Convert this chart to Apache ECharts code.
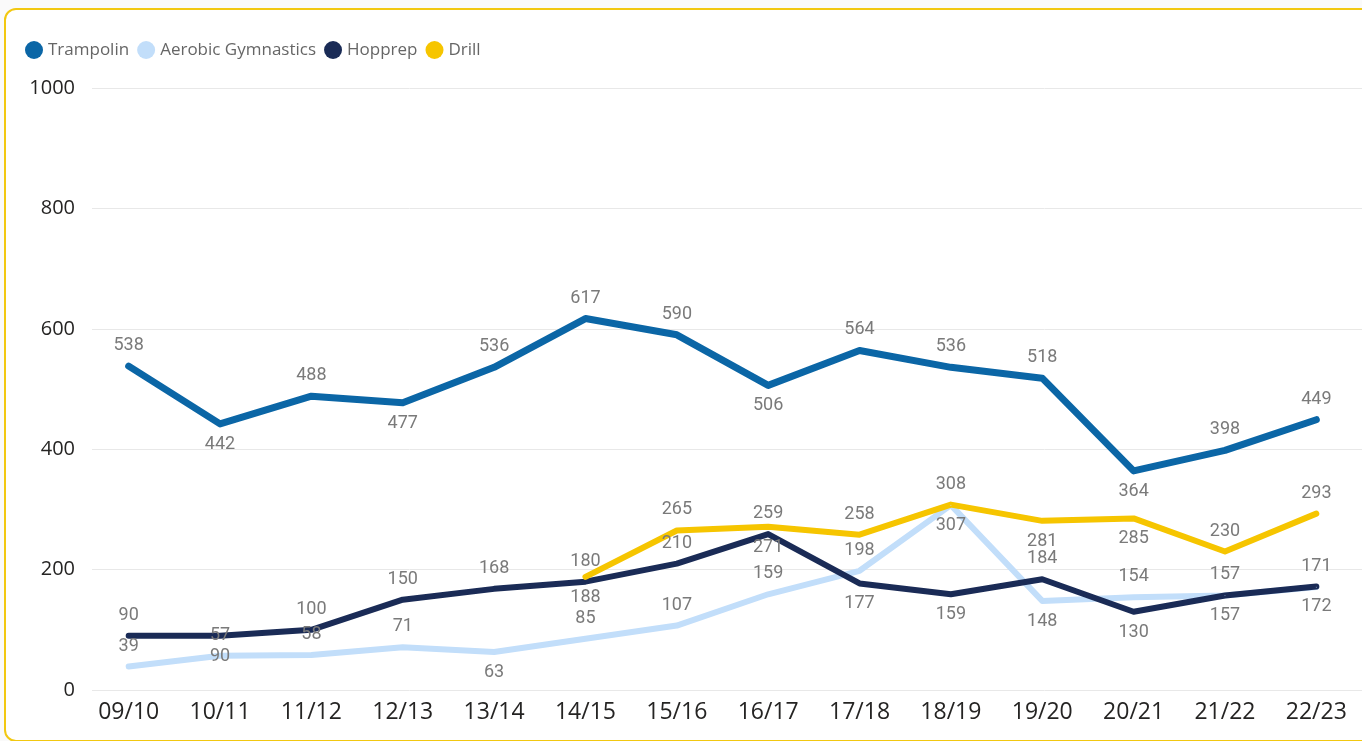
<!DOCTYPE html>
<html>
<head>
<meta charset="utf-8">
<script src="https://cdn.jsdelivr.net/npm/echarts@6/dist/echarts.min.js"></script>
<style>
  html, body { margin: 0; padding: 0; background: #fafafa; overflow: hidden; }
  .frame {
    position: absolute; left: 4px; top: 8px; width: 1400px; height: 730px;
    border: 2px solid #F2C811; border-radius: 12px; background: #fff;
  }
  #chart { position: absolute; left: 0; top: 0; width: 1362px; height: 741px; }
</style>
</head>
<body>
<div class="frame"></div>
<div id="chart"></div>
<script>
const seasons = ['09/10', '10/11', '11/12', '12/13', '13/14', '14/15', '15/16', '16/17', '17/18', '18/19', '19/20', '20/21', '21/22', '22/23'];
const trampolin = [538, 442, 488, 477, 536, 617, 590, 506, 564, 536, 518, 364, 398, 449];
const aerobic   = [39, 57, 58, 71, 63, 85, 107, 159, 198, 307, 148, 154, 157, 171];
const hopprep   = [90, 90, 100, 150, 168, 180, 210, 259, 177, 159, 184, 130, 157, 172];
const drill     = [null, null, null, null, null, 188, 265, 271, 258, 308, 281, 285, 230, 293];
const yTicks = [0, 200, 400, 600, 800, 1000];

// where each data label sits: t = above, b = below
const trampolinSide = 'tbtbtttbtttbtt';
const aerobicSide   = 'ttttbttttbbttt';
const hopprepSide   = 'tbttttttbbtbbb';
const drillSide     = 'tttttbtbttbbtt';

function points(values, side) {
  return values.map((v, i) => v === null ? '-' : {
    value: v,
    label: { position: side[i] === 't' ? 'top' : 'bottom' }
  });
}

function line(name, values, side, color, width) {
  return {
    name: name,
    type: 'line',
    xAxisIndex: 0,
    yAxisIndex: 0,
    data: points(values, side),
    showSymbol: true,
    symbol: 'circle',
    symbolSize: 1,
    lineStyle: { color: color, width: width, cap: 'round', join: 'round' },
    itemStyle: { color: color },
    label: {
      show: true,
      distance: 11,
      color: '#7a7a7a',
      fontSize: 18,
      fontFamily: 'Roboto',
      formatter: '{c}'
    }
  };
}

const chart = echarts.init(document.getElementById('chart'));
chart.setOption({
  animation: false,
  legend: {
    left: 20,
    top: 36,
    icon: 'circle',
    itemWidth: 18,
    itemHeight: 18,
    itemGap: 8,
    textStyle: { color: '#666', fontSize: 17, fontFamily: 'Open Sans' },
    data: ['Trampolin', 'Aerobic Gymnastics', 'Hopprep', 'Drill']
  },
  grid: [
    { left: 83, right: -20, top: 88, bottom: 51 },
    { left: 92, right: 0, top: 88, bottom: 51 }
  ],
  xAxis: [
    {
      type: 'category',
      gridIndex: 0,
      data: seasons,
      boundaryGap: true,
      axisLine: { show: false },
      axisTick: { show: false },
      axisLabel: { color: '#252423', fontSize: 23, margin: 11, fontFamily: 'Open Sans' }
    },
    { type: 'category', gridIndex: 1, data: seasons, show: false }
  ],
  yAxis: [
    { type: 'value', gridIndex: 0, min: 0, max: 1000, interval: 200, show: false },
    {
      type: 'value',
      gridIndex: 1,
      min: yTicks[0],
      max: yTicks[yTicks.length - 1],
      interval: 200,
      axisLine: { show: false },
      axisTick: { show: false },
      splitLine: { lineStyle: { color: '#e8e8e8', width: 1 } },
      axisLabel: {
        color: '#252423', fontSize: 20, margin: 17, fontFamily: 'Open Sans',
        formatter: v => String(v)
      }
    }
  ],
  series: [
    line('Trampolin', trampolin, trampolinSide, '#0B66A6', 7),
    line('Aerobic Gymnastics', aerobic, aerobicSide, '#C2DEFA', 6),
    line('Hopprep', hopprep, hopprepSide, '#1A2B56', 6),
    line('Drill', drill, drillSide, '#F6C500', 6)
  ]
});
</script>
</body>
</html>
